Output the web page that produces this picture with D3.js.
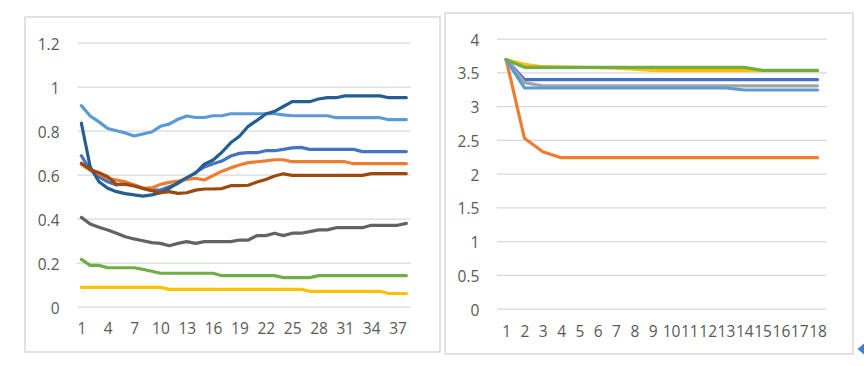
<!DOCTYPE html>
<html>
<head>
<meta charset="utf-8">
<script src="https://cdn.jsdelivr.net/npm/d3@7"></script>
<style>
  html, body { margin: 0; padding: 0; background: #fff; }
  svg { display: block; }
  .tick text { font-family: "Open Sans", sans-serif; font-size: 15.5px; fill: #595959; }
</style>
</head>
<body>
<svg id="chart" width="864" height="366"></svg>
<script>
// ---------- Left chart data ----------
const leftCategories = d3.range(1, 39);
const leftXTicks = [1, 4, 7, 10, 13, 16, 19, 22, 25, 28, 31, 34, 37];
const leftYTicks = [0, 0.2, 0.4, 0.6, 0.8, 1, 1.2];

const leftMedBlue = [0.686,0.621,0.59,0.568,0.553,0.561,0.553,0.538,0.53,0.53,0.545,0.56,0.585,0.61,0.635,0.65,0.662,0.685,0.697,0.7,0.7,0.709,0.709,0.715,0.722,0.724,0.715,0.715,0.715,0.715,0.715,0.715,0.705,0.705,0.705,0.705,0.705,0.705];
const leftOrange = [0.647,0.621,0.603,0.584,0.576,0.568,0.553,0.538,0.54,0.556,0.565,0.571,0.579,0.584,0.576,0.596,0.616,0.631,0.644,0.655,0.659,0.663,0.668,0.668,0.659,0.659,0.659,0.659,0.659,0.659,0.659,0.65,0.65,0.65,0.65,0.65,0.65,0.65];
const leftYellow = [0.088,0.088,0.088,0.088,0.088,0.088,0.088,0.088,0.088,0.088,0.079,0.079,0.079,0.079,0.079,0.079,0.079,0.079,0.079,0.079,0.079,0.079,0.079,0.079,0.079,0.079,0.07,0.07,0.07,0.07,0.07,0.07,0.07,0.07,0.07,0.06,0.06,0.06];
const leftLightBlue = [0.914,0.867,0.84,0.81,0.8,0.79,0.776,0.785,0.794,0.82,0.83,0.852,0.867,0.86,0.86,0.868,0.868,0.877,0.877,0.877,0.877,0.877,0.877,0.872,0.868,0.868,0.868,0.868,0.868,0.859,0.859,0.859,0.859,0.859,0.859,0.85,0.85,0.85];
const leftGreen = [0.215,0.188,0.188,0.177,0.177,0.177,0.177,0.17,0.161,0.152,0.152,0.152,0.152,0.152,0.152,0.152,0.141,0.141,0.141,0.141,0.141,0.141,0.141,0.132,0.132,0.132,0.132,0.141,0.141,0.141,0.141,0.141,0.141,0.141,0.141,0.141,0.141,0.141];
const leftDarkBlue = [0.834,0.636,0.568,0.538,0.523,0.514,0.508,0.503,0.508,0.518,0.538,0.564,0.587,0.607,0.648,0.667,0.702,0.745,0.775,0.82,0.847,0.876,0.888,0.91,0.932,0.932,0.932,0.944,0.95,0.95,0.958,0.958,0.958,0.958,0.958,0.95,0.95,0.95];
const leftBrown = [0.652,0.624,0.609,0.591,0.556,0.556,0.549,0.538,0.527,0.518,0.523,0.515,0.518,0.53,0.535,0.535,0.537,0.55,0.55,0.552,0.567,0.578,0.594,0.604,0.597,0.597,0.597,0.597,0.597,0.597,0.597,0.597,0.597,0.605,0.605,0.605,0.605,0.605];
const leftDarkGray = [0.406,0.376,0.361,0.349,0.334,0.318,0.308,0.3,0.291,0.288,0.277,0.288,0.296,0.288,0.296,0.296,0.296,0.296,0.303,0.303,0.323,0.323,0.334,0.323,0.334,0.334,0.341,0.349,0.349,0.359,0.359,0.359,0.359,0.37,0.37,0.37,0.37,0.379];

const leftSeries = [
  { values: leftMedBlue, color: "#4472C4" },
  { values: leftOrange, color: "#ED7D31" },
  { values: leftYellow, color: "#FFC000" },
  { values: leftLightBlue, color: "#5B9BD5" },
  { values: leftGreen, color: "#70AD47" },
  { values: leftDarkBlue, color: "#255E91" },
  { values: leftBrown, color: "#9E480E" },
  { values: leftDarkGray, color: "#636363" }
];

// ---------- Right chart data ----------
const rightCategories = d3.range(1, 19);
const rightYTicks = [0, 0.5, 1, 1.5, 2, 2.5, 3, 3.5, 4];

const rightBlue = [3.69,3.393,3.393,3.393,3.393,3.393,3.393,3.393,3.393,3.393,3.393,3.393,3.393,3.393,3.393,3.393,3.393,3.393];
const rightOrange = [3.69,2.524,2.326,2.237,2.237,2.237,2.237,2.237,2.237,2.237,2.237,2.237,2.237,2.237,2.237,2.237,2.237,2.237];
const rightGray = [3.69,3.35,3.302,3.302,3.302,3.302,3.302,3.302,3.302,3.302,3.302,3.302,3.302,3.302,3.302,3.302,3.302,3.302];
const rightYellow = [3.69,3.62,3.585,3.58,3.575,3.57,3.565,3.55,3.53,3.526,3.526,3.526,3.526,3.526,3.526,3.526,3.526,3.526];
const rightLightBlue = [3.69,3.27,3.27,3.27,3.27,3.27,3.27,3.27,3.27,3.27,3.27,3.27,3.27,3.24,3.24,3.24,3.24,3.24];
const rightGreen = [3.69,3.576,3.576,3.576,3.576,3.576,3.576,3.576,3.576,3.576,3.576,3.576,3.576,3.576,3.53,3.53,3.53,3.53];

const rightSeries = [
  { values: rightBlue, color: "#4472C4" },
  { values: rightOrange, color: "#ED7D31" },
  { values: rightGray, color: "#A5A5A5" },
  { values: rightYellow, color: "#FFC000" },
  { values: rightLightBlue, color: "#5B9BD5" },
  { values: rightGreen, color: "#70AD47" }
];

// ---------- Drawing ----------
const svg = d3.select("#chart");
svg.append("rect").attr("width", 864).attr("height", 366).attr("fill", "#fff");

function drawPanel(cfg) {
  const g = svg.append("g");
  g.append("rect")
    .attr("x", cfg.frame[0]).attr("y", cfg.frame[1])
    .attr("width", cfg.frame[2]).attr("height", cfg.frame[3])
    .attr("fill", "#fff").attr("stroke", "#D9D9D9").attr("stroke-width", 1.5);

  const x = d3.scalePoint().domain(cfg.categories).range([cfg.x0, cfg.x1]).padding(0.5);
  const y = d3.scaleLinear().domain(cfg.yDomain).range([cfg.y0, cfg.y1]);

  const ya = g.append("g").attr("transform", `translate(${cfg.x0},0)`)
    .call(d3.axisLeft(y).tickValues(cfg.yTicks).tickSize(-(cfg.x1 - cfg.x0)).tickPadding(cfg.yPad).tickFormat(d3.format("~g")));
  ya.select(".domain").remove();
  ya.selectAll(".tick line").attr("stroke", "#D9D9D9").attr("stroke-width", 1.3);
  ya.selectAll(".tick text").attr("dy", "0.42em");

  const xa = g.append("g").attr("transform", `translate(0,${cfg.y0})`)
    .call(d3.axisBottom(x).tickValues(cfg.xTicks).tickSize(0).tickPadding(cfg.xPad));
  xa.select(".domain").remove();

  const line = d3.line()
    .x((d, i) => x(cfg.categories[i]))
    .y(d => y(d));

  cfg.series.forEach(s => {
    g.append("path")
      .datum(s.values)
      .attr("fill", "none")
      .attr("stroke", s.color)
      .attr("stroke-width", 3.2)
      .attr("stroke-linejoin", "round")
      .attr("stroke-linecap", "round")
      .attr("d", line);
  });
}

drawPanel({
  frame: [25, 17, 415, 335],
  categories: leftCategories,
  xTicks: leftXTicks,
  yTicks: leftYTicks,
  yDomain: [0, 1.2],
  x0: 77, x1: 410.7,
  y0: 306.7, y1: 42.7,
  yPad: 17.5, xPad: 16.5,
  series: leftSeries
});

drawPanel({
  frame: [445, 13, 408, 341],
  categories: rightCategories,
  xTicks: rightCategories,
  yTicks: rightYTicks,
  yDomain: [0, 4],
  x0: 497, x1: 826.7,
  y0: 308.7, y1: 38.7,
  yPad: 17.7, xPad: 17.5,
  series: rightSeries
});

svg.append("path")
  .attr("d", "M857.5,349 L864,343.5 L864,354.5 Z")
  .attr("fill", "#3F7FD8");
</script>
</body>
</html>
